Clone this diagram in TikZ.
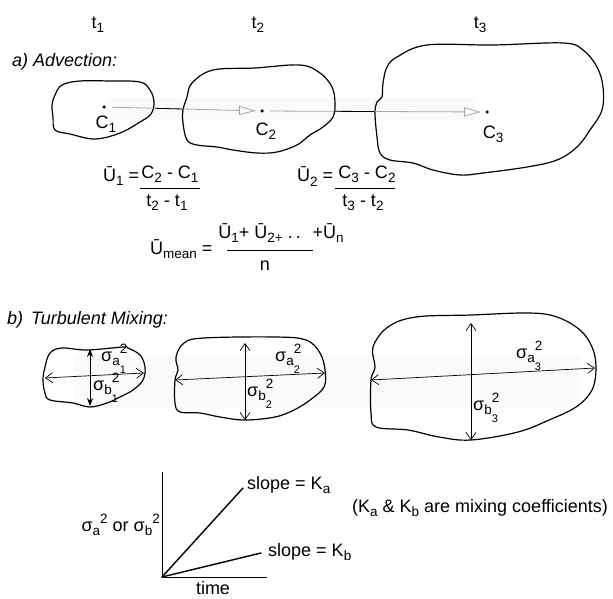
\documentclass[tikz,border=0pt]{standalone}
\usepackage{fontspec}
\setmainfont{Liberation Sans}
\usetikzlibrary{arrows.meta,calc}
\newcommand\lowr[1]{\raisebox{-0.45ex}{\fontsize{13.5}{14}\selectfont #1}}
\newcommand\highr[1]{\raisebox{0.75ex}{\fontsize{13.5}{14}\selectfont #1}}
\newcommand\sigsq[2]{σ\lowr{#1}\rlap{\raisebox{-1.3ex}{\fontsize{11}{11}\selectfont #2}}\highr{2}}

\begin{document}
\begin{tikzpicture}[x=1pt,y=-1pt,
  every node/.style={font=\fontsize{18}{21}\selectfont, inner sep=0pt},
  heading/.style={anchor=west, font=\fontsize{18}{21}\selectfont\itshape},
  blob/.style={line width=1.2pt, line join=round},
  dot/.style={circle, fill, inner sep=0pt, minimum size=3.5pt},
  flow/.style={gray!70, line width=0.8pt, -{Triangle[open,length=17pt,width=9pt]}},
  spread/.style={line width=0.7pt, {Straight Barb[length=7pt,width=10pt]}-{Straight Barb[length=7pt,width=10pt]}},
  slope/.style={line width=1.4pt, line cap=round}]
\useasboundingbox (0,0) rectangle (613,599);

% faint scan bands
\fill[gray!4] (107,98) rectangle (475,120);
\fill[gray!4] (75,355) rectangle (580,408);

% a) advection
\node (t1) at (98,25) {t\lowr{1}};
\node (t2) at (258,25) {t\lowr{2}};
\node (t3) at (480,25) {t\lowr{3}};
\node[heading] (adv) at (12,62) {a) Advection:};

\draw[blob] plot[smooth cycle, tension=0.6] coordinates {(55,95) (62,85) (80,81) (110,81) (140,82) (150,90) (154,102) (151,114) (140,122) (120,133) (95,139) (70,134) (55,130) (53,117) (52,105)};
\draw[blob] plot[smooth cycle, tension=0.6] coordinates {(192,83) (213,70) (255,68) (300,65) (320,73) (332,87) (335,103) (333,117) (323,127) (310,135) (297,145) (277,152) (257,153) (233,150) (217,147) (197,145) (187,140) (183,123) (183,110) (187,97)};
\draw[blob] plot[smooth cycle, tension=0.6] coordinates {(397,57) (427,45) (493,45) (563,43) (583,50) (597,67) (603,87) (602,110) (590,130) (577,147) (557,160) (527,167) (483,173) (460,175) (433,170) (413,163) (390,160) (380,153) (377,137) (375,113) (377,102) (382,97) (383,83) (387,67)};

\node[dot] (c1) at (104,107) {};
\node[dot] (c2) at (262,111) {};
\node[dot] (c3) at (487,112) {};
\node (c1l) at (106,124) {C\lowr{1}};
\node (c2l) at (266,131) {C\lowr{2}};
\node (c3l) at (493,134) {C\lowr{3}};

\draw[flow, shorten <=6pt, shorten >=4pt] (c1) -- (c2);
\draw[flow, shorten <=6pt, shorten >=4pt] (c2) -- (c3);
\draw[line width=0.8pt] ($(c1)!0.32!(c2)$) -- ($(c1)!0.5!(c2)$);
\draw[line width=0.8pt] ($(c2)!0.32!(c3)$) -- ($(c2)!0.5!(c3)$);

% mean velocities
\node[anchor=base west] (u1) at (103,181) {Ū\lowr{1} =};
\node (u1n) at (170,174) {C\lowr{2} - C\lowr{1}};
\node (u1d) at (167,203) {t\lowr{2} - t\lowr{1}};
\draw[line width=0.7pt] (140,188) -- (200,188);
\node[anchor=base west] (u2) at (297,182) {Ū\lowr{2} =};
\node (u2n) at (367,174) {C\lowr{3} - C\lowr{2}};
\node (u2d) at (363,203) {t\lowr{3} - t\lowr{2}};
\draw[line width=0.7pt] (335,188) -- (395,188);
\node[anchor=base west] (um) at (150,254) {Ū\lowr{mean} =};
\node (umn) at (281,233) {Ū\lowr{1}+ Ū\lowr{2+} .\,.~ +Ū\lowr{n}};
\node (umd) at (265,266) {n};
\draw[line width=0.7pt] (227,250) -- (313,250);

% b) turbulent mixing
\node[heading] (mix) at (7,320) {b)\, Turbulent Mixing:};

\draw[blob] plot[smooth cycle, tension=0.6] coordinates {(50,353) (62,348) (87,350) (123,347) (128,348) (140,355) (145,367) (143,380) (133,390) (120,397) (107,403) (90,407) (73,403) (50,400) (45,393) (43,380) (45,367)};
\draw[blob] plot[smooth cycle, tension=0.6] coordinates {(184,343) (204,338) (275,337) (306,340) (320,353) (325,370) (324,387) (310,400) (294,410) (275,417) (245,420) (220,417) (200,413) (180,412) (175,403) (175,380) (178,370) (176,357)};
\draw[blob] plot[smooth cycle, tension=0.6] coordinates {(388,327) (416,317) (471,315) (529,313) (557,317) (580,330) (592,347) (596,367) (592,390) (576,407) (549,420) (518,432) (471,440) (439,437) (408,430) (376,427) (371,413) (371,380) (375,367) (373,347)};

\coordinate (b1w) at (45,378);
\coordinate (b1e) at (144,373);
\coordinate (b1n) at (90,349);
\coordinate (b1s) at (90,406);
\draw[spread] (b1w) -- (b1e);
\draw[line width=0.8pt, {Stealth[length=8pt,width=6pt]}-{Stealth[length=8pt,width=6pt]}] (b1s) -- (b1n);
\node[anchor=west] (sa1) at (101,359) {\sigsq{a}{1}};
\node[anchor=west] (sb1) at (93,388) {\sigsq{b}{1}};

\coordinate (b2w) at (175,380);
\coordinate (b2e) at (325,373);
\coordinate (b2n) at (245,343);
\coordinate (b2s) at (245,420);
\draw[spread] (b2w) -- (b2e);
\draw[spread] (b2s) -- (b2n);
\node[anchor=west] (sa2) at (275,359) {\sigsq{a}{2}};
\node[anchor=west] (sb2) at (247,394) {\sigsq{b}{2}};

\coordinate (b3w) at (371,380);
\coordinate (b3e) at (595,368);
\coordinate (b3n) at (471,323);
\coordinate (b3s) at (471,440);
\draw[spread] (b3w) -- (b3e);
\draw[spread] (b3s) -- (b3n);
\node[anchor=west] (sa3) at (516,356) {\sigsq{a}{3}};
\node[anchor=west] (sb3) at (473,408) {\sigsq{b}{3}};

% growth of variance
\coordinate (o) at (162,577);
\coordinate (ytop) at (162,472);
\coordinate (xend) at (267,577);
\coordinate (kaend) at (243,488);
\coordinate (kbend) at (261,553);
\draw[line width=0.7pt] (ytop) -- (o) -- (xend);
\draw[slope] (o) -- (kaend);
\draw[slope] (o) -- (kbend);
\node[anchor=west] (ka) at (247,485) {slope = K\lowr{a}};
\node[anchor=west] (kb) at (268,552) {slope = K\lowr{b}};
\node (time) at (213,588) {time};
\node[anchor=east] (ylab) at (160,525) {σ\lowr{a}\highr{2} or σ\lowr{b}\highr{2}};
\node[anchor=west] (note) at (352,508) {(K\lowr{a} \& K\lowr{b} are mixing coefficients)};
\end{tikzpicture}
\end{document}
